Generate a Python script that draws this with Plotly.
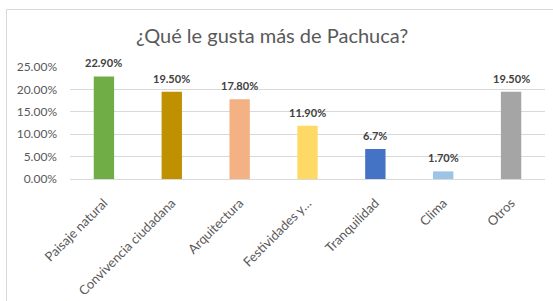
import plotly.graph_objects as go

categories = ["Paisaje natural", "Convivencia ciudadana", "Arquitectura",
              "Festividades y…", "Tranquilidad", "Clima", "Otros"]
values = [0.229, 0.195, 0.178, 0.119, 0.067, 0.017, 0.195]
value_labels = ["22.90%", "19.50%", "17.80%", "11.90%", "6.7%", "1.70%", "19.50%"]
colors = ["#70AD47", "#BF9000", "#F4B183", "#FFD966", "#4472C4", "#9DC3E6", "#A5A5A5"]
title_text = "¿Qué le gusta más de Pachuca?"

W, H = 553, 301
L, R, T, B = 70, 8, 67, 122
pw, ph = W - L - R, H - T - B
FONT = "Lato, Carlito, sans-serif"

def px_x(x):
    return (x - L) / pw

def px_y(y):
    return 1 - (y - T) / ph

fig = go.Figure()
fig.add_trace(go.Bar(
    x=categories, y=values, marker_color=colors, marker_line_width=0,
))

annotations = [
    dict(x=c, y=v, text=t, xref="x", yref="y", showarrow=False,
         yanchor="bottom", yshift=5,
         font=dict(family=FONT, size=11, color="#404040", weight="bold"))
    for c, v, t in zip(categories, values, value_labels)
]

fig.update_layout(
    width=W, height=H,
    margin=dict(l=L, r=R, t=T, b=B, autoexpand=False),
    paper_bgcolor="white", plot_bgcolor="white",
    showlegend=False, bargap=0.7,
    title=dict(text=title_text, x=0.492, xref="container", xanchor="center",
               y=1 - 36 / H, yref="container", yanchor="middle",
               font=dict(family=FONT, size=20, color="#595959")),
    font=dict(family=FONT, color="#595959"),
    xaxis=dict(tickangle=-45, tickfont=dict(size=13, color="#595959"),
               showgrid=False, showline=False, ticks="", ticklabelstandoff=13,
               automargin=False),
    yaxis=dict(range=[0, 0.25], dtick=0.05, tickformat=".2%",
               tickfont=dict(size=12, color="#595959"),
               gridcolor="#D9D9D9", gridwidth=1, zeroline=True,
               zerolinecolor="#D9D9D9", zerolinewidth=1, ticks="", ticklabelstandoff=12,
               automargin=False),
    annotations=annotations,
    shapes=[dict(type="rect", xref="paper", yref="paper",
                 x0=px_x(6.5), x1=px_x(570), y0=px_y(320), y1=px_y(9.5),
                 line=dict(color="#D9D9D9", width=1), layer="below")],
)

fig.write_html("out.html", config={"displayModeBar": False},
               post_script="document.body.style.margin='0';")
